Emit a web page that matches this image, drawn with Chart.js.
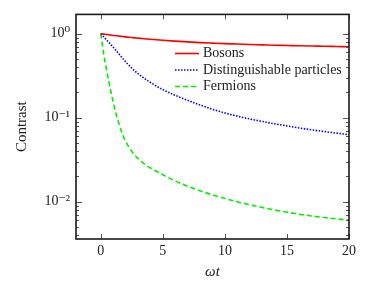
<!DOCTYPE html>
<html>
<head>
<meta charset="utf-8">
<script src="https://cdn.jsdelivr.net/npm/chart.js@4/dist/chart.umd.min.js"></script>
<style>
html,body{margin:0;padding:0;background:#fff;}
canvas{display:block;}
</style>
</head>
<body>
<canvas id="c" width="374" height="293"></canvas>
<script>
// Data
const timeValues = [0, 0.25, 0.5, 0.75, 1, 1.25, 1.5, 1.75, 2, 2.25, 2.5, 2.75, 3, 3.5, 4, 5, 6, 7, 8, 9, 10, 11, 12, 13, 14, 15, 16, 17, 18, 19, 20];
const bosons = [1, 0.989, 0.978, 0.966, 0.955, 0.945, 0.936, 0.927, 0.918, 0.91, 0.902, 0.894, 0.887, 0.873, 0.859, 0.836, 0.817, 0.80, 0.785, 0.773, 0.762, 0.755, 0.745, 0.738, 0.731, 0.725, 0.719, 0.714, 0.71, 0.705, 0.70];
const distinguishable = [1, 0.912, 0.832, 0.759, 0.692, 0.625, 0.565, 0.512, 0.462, 0.424, 0.389, 0.3605, 0.335, 0.295, 0.263, 0.216, 0.185, 0.161, 0.142, 0.126, 0.114, 0.1045, 0.0968, 0.0904, 0.0847, 0.0798, 0.0755, 0.0718, 0.0685, 0.0656, 0.063];
const fermions = [1, 0.556, 0.347, 0.226, 0.153, 0.1084, 0.0813, 0.0632, 0.0525, 0.0451, 0.0397, 0.0357, 0.03266, 0.02825, 0.0252, 0.02097, 0.01766, 0.01531, 0.01349, 0.01208, 0.01094, 0.0100, 0.0092, 0.00855, 0.00798, 0.0075, 0.0071, 0.00676, 0.00649, 0.00625, 0.00604];
const seriesNames = ["Bosons", "Distinguishable particles", "Fermions"];
const xTicks = [0, 5, 10, 15, 20];
const yTicks = [0.01, 0.1, 1];
const yTickLabels = {"0.01": "10\u207B\u00B2", "0.1": "10\u207B\u00B9", "1": "10\u2070"};

const FONT = "'Liberation Serif','DejaVu Serif',serif";

function pts(arr){ return timeValues.map((t,i)=>({x:t, y:arr[i]})); }

const decorPlugin = {
  id: 'decor',
  afterDatasetsDraw(chart){
    const ctx = chart.ctx;
    const a = chart.chartArea;
    const xs = chart.scales.x, ys = chart.scales.y;
    ctx.save();
    ctx.strokeStyle = '#555';
    ctx.lineWidth = 1;
    xTicks.forEach(v=>{
      const px = Math.round(xs.getPixelForValue(v)) + 0.5;
      ctx.beginPath();
      ctx.moveTo(px, a.bottom); ctx.lineTo(px, a.bottom - 5);
      ctx.moveTo(px, a.top); ctx.lineTo(px, a.top + 5);
      ctx.stroke();
    });
    for(let k=-3;k<=0;k++){
      for(let m=1;m<=9;m++){
        const v = m*Math.pow(10,k);
        if(v < ys.min || v > ys.max) continue;
        const py = Math.round(ys.getPixelForValue(v)) + 0.5;
        const len = m===1 ? 6 : 3;
        ctx.beginPath();
        ctx.moveTo(a.left, py); ctx.lineTo(a.left + len, py);
        ctx.moveTo(a.right, py); ctx.lineTo(a.right - len, py);
        ctx.stroke();
      }
    }
    ctx.strokeStyle = '#1a1a1a';
    ctx.lineWidth = 1.6;
    ctx.strokeRect(a.left, a.top, a.right - a.left, a.bottom - a.top);
    const lx0 = 175, lx1 = 199, tx = 203;
    const rows = [53.5, 70, 86.5];
    chart.data.datasets.forEach((ds,i)=>{
      const y = rows[i];
      ctx.strokeStyle = ds.borderColor;
      ctx.lineWidth = ds.borderWidth;
      ctx.setLineDash(ds.borderDash || []);
      ctx.beginPath(); ctx.moveTo(lx0, y); ctx.lineTo(lx1, y); ctx.stroke();
      ctx.setLineDash([]);
      ctx.fillStyle = '#222';
      ctx.font = "14px " + FONT;
      ctx.textBaseline = 'middle';
      ctx.textAlign = 'left';
      ctx.fillText(ds.label, tx, y);
    });
    ctx.restore();
  }
};

new Chart(document.getElementById('c'), {
  type: 'line',
  data: {
    datasets: [
      {label: seriesNames[0], data: pts(bosons), borderColor: '#ff0000', borderWidth: 1.6, pointRadius: 0, cubicInterpolationMode: 'monotone', fill: false},
      {label: seriesNames[1], data: pts(distinguishable), borderColor: '#0000ff', borderWidth: 1.6, borderDash: [1.5, 1.5], pointRadius: 0, cubicInterpolationMode: 'monotone', fill: false},
      {label: seriesNames[2], data: pts(fermions), borderColor: '#00ee00', borderWidth: 1.6, borderDash: [5, 3], pointRadius: 0, cubicInterpolationMode: 'monotone', fill: false}
    ]
  },
  options: {
    responsive: false,
    animation: false,
    layout: {padding: {top: 12, right: 25, left: 0, bottom: 0}},
    plugins: {legend: {display: false}, tooltip: {enabled: false}},
    scales: {
      x: {
        type: 'linear', min: -2, max: 20,
        grid: {display: false, drawTicks: false},
        border: {display: false},
        afterBuildTicks: s => { s.ticks = xTicks.map(v=>({value: v})); },
        afterFit: s => { s.height = 54; },
        ticks: {color: '#222', font: {family: FONT, size: 14}, padding: 4, maxRotation: 0,
                callback: v => String(v)},
        title: {display: true, text: '\u03C9t', color: '#222', font: {family: FONT, size: 15, style: 'italic'}, padding: {top: 0, bottom: 12}}
      },
      y: {
        type: 'logarithmic', min: 0.0036, max: 1.7,
        grid: {display: false, drawTicks: false},
        border: {display: false},
        afterBuildTicks: s => { s.ticks = yTicks.map(v=>({value: v})); },
        afterFit: s => { s.width = 76; },
        ticks: {color: '#222', font: {family: FONT, size: 14}, padding: 6,
                callback: v => yTickLabels[String(v)] || ''},
        title: {display: true, text: 'Contrast', color: '#222', font: {family: FONT, size: 15}, padding: {top: 13, bottom: 0}}
      }
    }
  },
  plugins: [decorPlugin]
});
</script>
</body>
</html>
